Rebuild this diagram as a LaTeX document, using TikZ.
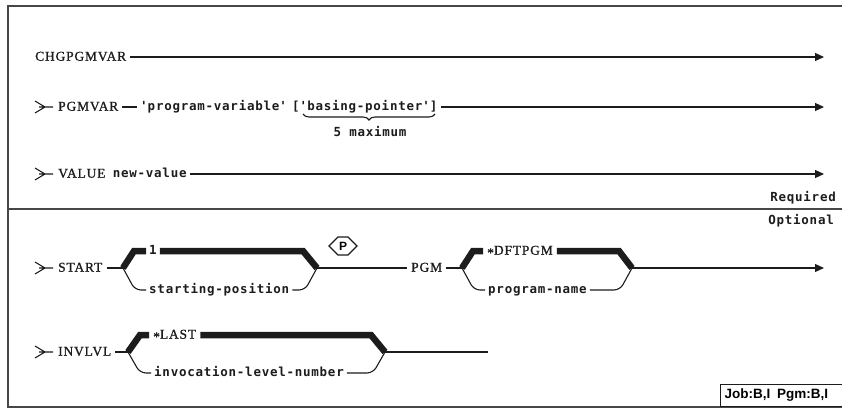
\documentclass[tikz,border=0pt]{standalone}
\usepackage{fontspec}
\setmainfont{Liberation Serif}
\newfontfamily\kwfont{Liberation Serif}[LetterSpace=6, FakeBold=1]
\newfontfamily\parmfont{DejaVu Sans Mono}[LetterSpace=6]
\newfontfamily\tagfont{Liberation Sans}
\usetikzlibrary{positioning, arrows.meta, calc, shapes.symbols,
                decorations.pathreplacing}
\definecolor{ink}{HTML}{1c1c1c}
\definecolor{rule}{HTML}{474747}
\newcommand\sq{\textquotesingle}
\newcommand\midstar{\raisebox{-2.5pt}{*}}

\begin{document}
\begin{tikzpicture}[x=1pt, y=-1pt,
  kw/.style={font=\kwfont\fontsize{13.5}{15}\selectfont, anchor=west, inner xsep=4pt,
             inner ysep=2pt, text height=9pt, text depth=1.6pt, text=ink},
  parm/.style={font=\parmfont\bfseries\fontsize{12.5}{15}\selectfont, anchor=west,
               inner xsep=3pt, inner ysep=2pt, text height=9pt, text depth=1.6pt, text=ink},
  rail/.style={draw=ink, line width=1.1pt},
  arr/.style={rail, -{Triangle[length=9pt, width=8pt]}},
  dflt/.style={draw=ink, line width=6.5pt},
  frame/.style={draw=rule, line width=1.6pt},
  entry/.pic={\draw[rail] (0,-6) -- (10,0) -- (0,6) (4,0) -- (18,0);}
]
  \useasboundingbox (0,0) rectangle (842,409);
  \clip (0,0) rectangle (842,409);

  % frame, required / optional split
  \draw[frame] (850,6) -- (8,6) -- (8,407) -- (850,407);
  \draw[frame] (8,209) -- (850,209);

  % required part
  \node[kw] (chg) at (31,57) {CHGPGMVAR};
  \coordinate (end1) at (824,57);
  \draw[arr] (chg) -- (end1);

  \pic at (35,107) {entry};
  \node[kw] (pgmvar) at (54,107) {PGMVAR};
  \node[parm] (pvar) at (137,107) {\sq program-variable\sq};
  \node[parm] (bptr) at (289,107) {[\sq basing-pointer\sq]};
  \coordinate (end2) at (824,107);
  \draw[rail] (pgmvar) -- (pvar);
  \draw[arr] (bptr) -- (end2);
  \coordinate (br1) at (303,114);
  \coordinate (br2) at (435,114);
  \draw[rail, decorate, decoration={brace, mirror, amplitude=6pt}] (br1) -- (br2);
  \node[parm, anchor=center] (max5) at (370,133) {5 maximum};

  \pic at (35,174) {entry};
  \node[kw] (value) at (54,174) {VALUE};
  \node[parm, right=0pt of value] (newval) {new-value};
  \coordinate (end3) at (824,174);
  \draw[arr] (newval) -- (end3);

  \node[parm, anchor=east] (req) at (839,198) {Required};
  \node[parm, anchor=east] (opt) at (837,221) {Optional};

  % START ... PGM
  \pic at (35,268) {entry};
  \node[kw] (start) at (54,268) {START};
  \coordinate (sL) at (123,268);
  \coordinate (sR) at (317,268);
  \draw[rail] (start) -- (sL);
  \node[parm] (one) at (146,251) {1};
  \node[parm] (spos) at (146,290) {starting-position};
  \draw[dflt] (sL) -- ++(11,-17) -- (one);
  \draw[dflt] (one) -- ($(sR)+(-14,-17)$) -- (sR);
  \draw[rail, rounded corners=6pt] (sL) -- ($(sL)+(12,22)$) -- (spos);
  \draw[rail, rounded corners=6pt] (spos) -- ($(sR)+(-12,22)$) -- (sR);

  \node[signal, signal to=east and west, draw=ink, line width=1.1pt,
        minimum height=18pt, minimum width=28pt, inner sep=1pt,
        font=\tagfont\bfseries\fontsize{12}{14}\selectfont] (ppos) at (343,246) {P};

  \node[kw] (pgm) at (407,268) {PGM};
  \coordinate (pL) at (462,268);
  \coordinate (pR) at (632,268);
  \draw[rail] (sR) -- (pgm);
  \draw[rail] (pgm) -- (pL);
  \node[kw] (dftpgm) at (483,251) {\midstar DFTPGM};
  \node[parm] (pname) at (485,290) {program-name};
  \draw[dflt] (pL) -- ++(11,-17) -- (dftpgm);
  \draw[dflt] (dftpgm) -- ($(pR)+(-13,-17)$) -- (pR);
  \draw[rail, rounded corners=6pt] (pL) -- ($(pL)+(12,22)$) -- (pname);
  \draw[rail, rounded corners=6pt] (pname) -- ($(pR)+(-12,22)$) -- (pR);
  \coordinate (end4) at (824,268);
  \draw[arr] (pR) -- (end4);

  % INVLVL
  \pic at (35,352) {entry};
  \node[kw] (invlvl) at (54,352) {INVLVL};
  \coordinate (iL) at (128,352);
  \coordinate (iR) at (385,352);
  \draw[rail] (invlvl) -- (iL);
  \node[kw] (last) at (149,335) {\midstar LAST};
  \node[parm] (ilnum) at (151,373) {invocation-level-number};
  \draw[dflt] (iL) -- ++(12,-17) -- (last);
  \draw[dflt] (last) -- ($(iR)+(-14,-17)$) -- (iR);
  \draw[rail, rounded corners=6pt] (iL) -- ($(iL)+(12,21)$) -- (ilnum);
  \draw[rail, rounded corners=6pt] (ilnum) -- ($(iR)+(-12,21)$) -- (iR);
  \coordinate (end5) at (488,352);
  \draw[rail] (iR) -- (end5);

  % scope box
  \node[draw=ink, line width=1.2pt, anchor=south west, minimum width=140pt,
        minimum height=22pt, inner sep=4pt, text width=132pt, align=left,
        font=\tagfont\bfseries\fontsize{13.5}{15}\selectfont] (job) at (720,407)
        {Job:B,I\enspace Pgm:B,I};
\end{tikzpicture}
\end{document}
